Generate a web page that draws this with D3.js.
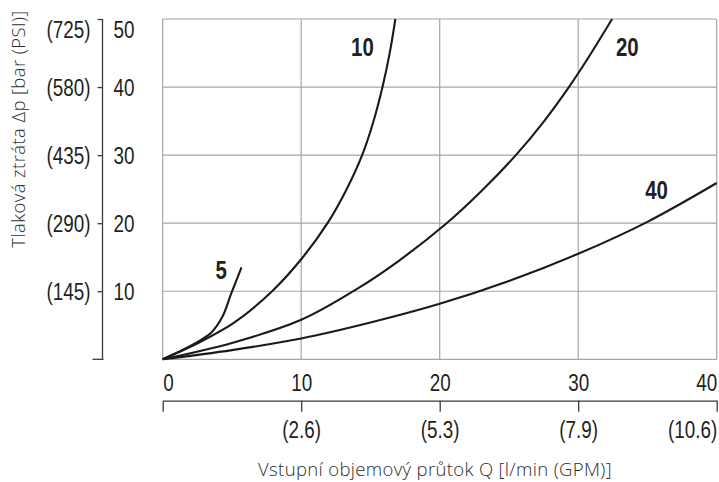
<!DOCTYPE html>
<html><head><meta charset="utf-8">
<script src="https://cdn.jsdelivr.net/npm/d3@7"></script>
<style>
body{margin:0;background:#fff;}
svg{display:block;}
</style></head>
<body><svg id="chart" width="719" height="482"></svg>
<script>
// ---- data ----
const xTicks = [0, 10, 20, 30, 40];
const gpmLabels = ["", "(2.6)", "(5.3)", "(7.9)", "(10.6)"];
const yTicks = [10, 20, 30, 40, 50];
const psiLabels = ["(145)", "(290)", "(435)", "(580)", "(725)"];
const gridY = [0, 10, 20, 30, 40, 50];

const series5Q  = [0, 1.5, 2.8, 3.5, 4.3, 4.97, 5.69];
const series5P  = [0, 1.45, 2.9, 3.9, 6.2, 9.8, 13.5];
const series10Q = [0, 2.56, 5.1, 7.9, 10.0, 11.9, 13.3, 14.4, 15.2, 15.87, 16.4, 16.8];
const series10P = [0, 2.4, 5.3, 10.0, 14.7, 20.0, 25.07, 30.0, 34.84, 40.0, 45.1, 50.0];
const series20Q = [0, 5.0, 10.0, 14.0, 17.0, 20.5, 23.0, 25.5, 27.5, 29.33, 30.6, 32.45];
const series20P = [0, 2.4, 5.8, 10.3, 14.4, 20.0, 24.7, 30.0, 34.9, 40.0, 43.9, 50.0];
const series40Q = [0, 5, 10, 15, 20, 25, 30, 35, 40];
const series40P = [0, 1.35, 3.05, 5.4, 8.15, 11.5, 15.5, 20.2, 25.9];

const curveNames = ["5", "10", "20", "40"];
const labelQ = [4.23, 14.42, 33.54, 35.66];
const labelP = [13.1, 45.9, 45.9, 24.96];

const xTitle = "Vstupní objemový průtok Q [l/min (GPM)]";
const yTitle = "Tlaková ztráta Δp [bar (PSI)]";

// ---- layout ----
const svg = d3.select("#chart");
const x = d3.scaleLinear().domain([0, 40]).range([162.7, 716.7]);
const y = d3.scaleLinear().domain([0, 50]).range([359.3, 19]);

const tickFont = "'Liberation Sans',Arial,sans-serif";
const titleFont = "'Open Sans','Noto Sans',sans-serif";
const SX = 0.82; // horizontal condensing of the tick font
const gridColor = "#a6a6a6";
const axisColor = "#3a3a3a";
const textColor = "#231f20";

function condense(sel, sx) {
  sel.each(function () {
    const t = d3.select(this);
    const x0 = +t.attr("x") || 0;
    t.attr("x", x0 / sx).attr("transform", `scale(${sx},1)`);
  });
}

// grid
svg.append("g").selectAll("line").data(gridY).join("line")
  .attr("x1", x(0)).attr("x2", x(40))
  .attr("y1", d => y(d)).attr("y2", d => y(d))
  .attr("stroke", gridColor).attr("stroke-width", 1.2);
svg.append("g").selectAll("line").data(xTicks).join("line")
  .attr("x1", d => x(d)).attr("x2", d => x(d))
  .attr("y1", y(0)).attr("y2", y(50))
  .attr("stroke", gridColor).attr("stroke-width", 1.2);

// left axis (PSI labels on left, bar labels on right)
const axX = 102.5;
const leftAxis = svg.append("g").attr("transform", `translate(${axX},0)`)
  .call(d3.axisLeft(y).tickValues(yTicks).tickSize(5).tickSizeOuter(0).tickPadding(7)
    .tickFormat((d, i) => psiLabels[i]));
const rightLabels = svg.append("g").attr("transform", `translate(${axX},0)`)
  .call(d3.axisRight(y).tickValues(yTicks).tickSize(0).tickPadding(11).tickFormat(d3.format("d")));
rightLabels.select(".domain").remove();
[leftAxis, rightLabels].forEach(g => {
  g.selectAll("text").attr("font-family", tickFont).attr("font-size", 23).attr("fill", textColor)
    .attr("dy", d => d === 50 ? "0.8em" : "0.35em");
  condense(g.selectAll("text"), SX);
  g.selectAll("line, path").attr("stroke", axisColor).attr("stroke-width", 1.3);
});
leftAxis.select(".domain").attr("d", `M0,${y(0)}V${y(50)}`);
// bottom extended tick of left axis
svg.append("line").attr("x1", axX - 10).attr("x2", axX + 1)
  .attr("y1", y(0)).attr("y2", y(0)).attr("stroke", axisColor).attr("stroke-width", 1.3);

// x tick labels (l/min)
const xAxisTop = svg.append("g").attr("transform", `translate(0,${y(0)})`)
  .call(d3.axisBottom(x).tickValues(xTicks).tickSize(0).tickPadding(15));
xAxisTop.select(".domain").remove();
xAxisTop.selectAll("text").attr("font-family", tickFont).attr("font-size", 23).attr("fill", textColor)
  .attr("text-anchor", (d, i) => i === 0 ? "start" : (i === xTicks.length - 1 ? "end" : "middle"));
condense(xAxisTop.selectAll("text"), SX);

// secondary x axis (GPM)
const xAxisBot = svg.append("g").attr("transform", "translate(0,400.7)")
  .call(d3.axisBottom(x).tickValues(xTicks).tickSize(11).tickSizeOuter(0).tickPadding(10)
    .tickFormat((d, i) => gpmLabels[i]));
xAxisBot.selectAll("line, path").attr("stroke", axisColor).attr("stroke-width", 1.3);
xAxisBot.selectAll("text").attr("font-family", tickFont).attr("font-size", 23).attr("fill", textColor)
  .attr("text-anchor", (d, i) => i === xTicks.length - 1 ? "end" : "middle");
condense(xAxisBot.selectAll("text"), SX);

// curves
const seriesQ = [series5Q, series10Q, series20Q, series40Q];
const seriesP = [series5P, series10P, series20P, series40P];
const line = d3.line().x(d => x(d[0])).y(d => y(d[1])).curve(d3.curveCatmullRom.alpha(0.5));
seriesQ.forEach((qs, k) => {
  const pts = qs.map((q, i) => [q, seriesP[k][i]]);
  svg.append("path").attr("d", line(pts)).attr("fill", "none")
    .attr("stroke", "#1a1a1a").attr("stroke-width", 2.1).attr("stroke-linejoin", "round");
});

// curve labels
svg.append("g").selectAll("text").data(curveNames).join("text")
  .attr("transform", (d, i) => `translate(${x(labelQ[i])},${y(labelP[i])}) scale(0.8,1)`)
  .attr("dy", "0.36em").attr("text-anchor", "middle")
  .attr("font-family", tickFont).attr("font-weight", "bold").attr("font-size", 25.5)
  .attr("fill", textColor).text(d => d);

// titles
svg.append("text").attr("x", 435).attr("y", 476).attr("text-anchor", "middle")
  .attr("font-family", titleFont).attr("font-weight", 300).attr("font-size", 18.5)
  .attr("letter-spacing", 0.35).attr("fill", "#2e2e2e").text(xTitle);
svg.append("text").attr("transform", "translate(18,129) rotate(-90)").attr("dy", "0.36em")
  .attr("text-anchor", "middle")
  .attr("font-family", titleFont).attr("font-weight", 300).attr("font-size", 18.5)
  .attr("letter-spacing", 0.4).attr("fill", "#2e2e2e").text(yTitle);
</script></body></html>
